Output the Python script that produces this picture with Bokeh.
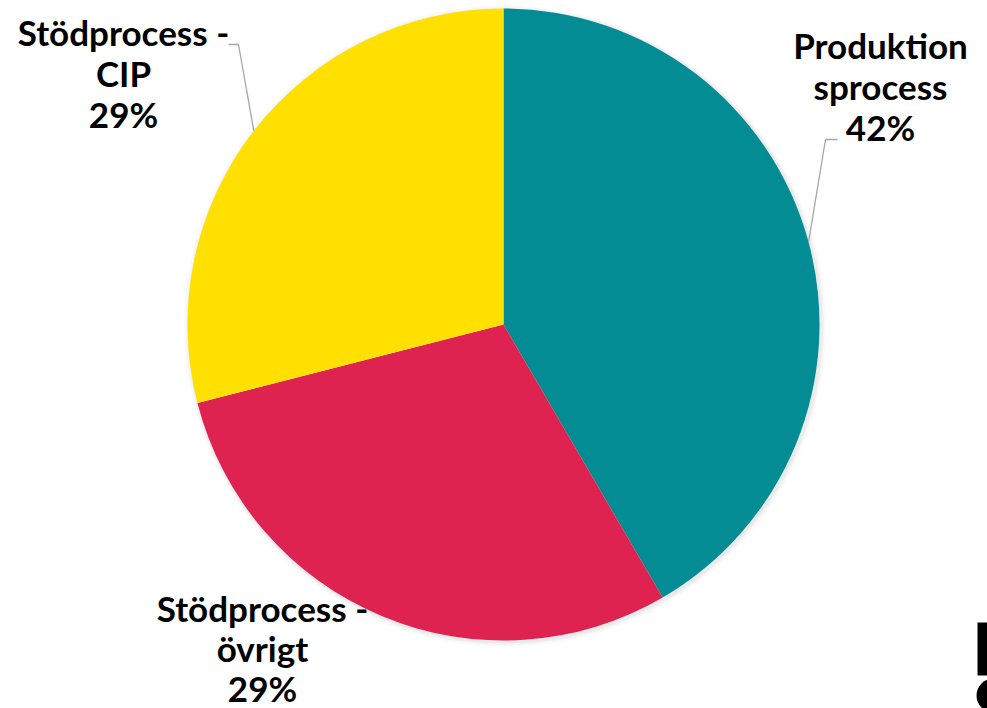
import numpy as np
from bokeh.plotting import figure
from bokeh.models import Range1d
from bokeh.core.properties import value
from bokeh.embed import file_html
from bokeh.resources import INLINE

# ---- data ----
categories = ["Produktionsprocess", "Stödprocess - övrigt", "Stödprocess - CIP"]
shares = [41.6, 29.4, 29.0]
name_lines = [["Produktion", "sprocess"],
              ["Stödprocess -", "övrigt"],
              ["Stödprocess -", "CIP"]]
colors = ["#038C93", "#DF2351", "#FFE000"]

# ---- layout (screen px -> data: x = sx, y = H - sy) ----
W, H = 987, 708
def Y(sy):
    return H - sy

p = figure(width=W, height=H, x_range=Range1d(0, W), y_range=Range1d(0, H),
           output_backend="svg", toolbar_location=None, min_border=0,
           outline_line_color=None, background_fill_color="white")
p.axis.visible = False
p.grid.visible = False

cx, cy, r = 503, Y(324), 316

vals = np.array(shares, dtype=float)
fr = vals / vals.sum()
ends_cum = np.cumsum(fr)
starts_cum = ends_cum - fr
start_ang = np.pi / 2 - 2 * np.pi * starts_cum
end_ang = np.pi / 2 - 2 * np.pi * ends_cum
mid_ang = (start_ang + end_ang) / 2

# soft shadow
for k, a in [(5, 0.04), (3, 0.06), (1.5, 0.08)]:
    p.circle(x=[cx + 1.5], y=[cy - 1.5], radius=r + k, fill_color="#888888",
             fill_alpha=a, line_color=None)

p.wedge(x=cx, y=cy, radius=r, start_angle=list(start_ang), end_angle=list(end_ang),
        direction="clock", fill_color=colors, line_color=None)

# label anchors (centre x, first line screen y, line gap) and leader elbows
label_pos = [(880, 44, 41), (262, 607, 40), (123, 31, 41)]
leaders = [[(837, 139), (825, 139)], None, [(228, 44), (238, 44)]]

for i, names in enumerate(name_lines):
    lines = names + ["%d%%" % round(fr[i] * 100)]
    lx, ly, gap = label_pos[i]
    for j, t in enumerate(lines):
        p.text(x=[lx], y=[Y(ly + j * gap)], text=[t], text_align="center",
               text_baseline="middle", text_font=value("Lato"),
               text_font_style="bold", text_font_size="35px", text_color="#000000")
    if leaders[i] is not None:
        ex = cx + r * np.cos(mid_ang[i])
        ey = cy + r * np.sin(mid_ang[i])
        xs = [pt[0] for pt in leaders[i]] + [ex]
        ys = [Y(pt[1]) for pt in leaders[i]] + [ey]
        p.line(xs, ys, line_color="#A6A6A6", line_width=1.3)

# partial logo at bottom-right corner
p.quad(left=[977], right=[990], bottom=[Y(675)], top=[Y(622)], fill_color="black", line_color=None)
p.circle(x=[993], y=[Y(695)], radius=17, fill_color="black", line_color=None)

open("out.html", "w").write(file_html(p, INLINE))
